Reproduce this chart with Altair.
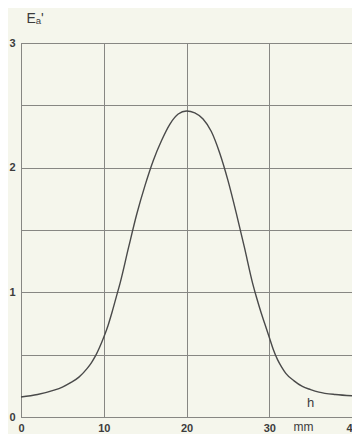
import altair as alt
import pandas as pd

x_mm = [0, 2, 4, 5, 6, 7, 8, 8.5, 9, 9.5, 10, 10.5, 11, 11.5, 12, 13, 14, 15, 16,
        17, 18, 19, 20, 21, 22, 23, 24, 25, 26, 27, 28, 28.5, 29, 29.5, 30, 30.5,
        31, 31.5, 32, 33, 34, 35, 36, 38, 40]
e_val = [0.16, 0.18, 0.215, 0.24, 0.275, 0.32, 0.39, 0.435, 0.49, 0.56, 0.64,
         0.73, 0.84, 0.96, 1.08, 1.36, 1.63, 1.86, 2.06, 2.22, 2.35, 2.43, 2.455,
         2.44, 2.39, 2.29, 2.12, 1.90, 1.64, 1.36, 1.07, 0.95, 0.84, 0.74, 0.64,
         0.54, 0.46, 0.40, 0.35, 0.29, 0.245, 0.22, 0.20, 0.18, 0.17]

x_ticks = [0, 10, 20, 30, 40]
y_ticks = [0, 0.5, 1, 1.5, 2, 2.5, 3]

label_text = ["h"]
label_x = [35.0]
label_y = [0.11]

df = pd.DataFrame({"x": x_mm, "e": e_val})
lab = pd.DataFrame({"x": label_x, "e": label_y, "t": label_text})

grid_col = "#878783"
ink = "#3c3c3c"

xs = alt.Scale(domain=[0, 40], nice=False, zero=False)
ys = alt.Scale(domain=[0, 3], nice=False)

line = alt.Chart(df).mark_line(color="#4a4a4a", strokeWidth=1.4, interpolate="monotone").encode(
    x=alt.X("x:Q", scale=xs, axis=alt.Axis(
        values=x_ticks, title="mm", titleX=282, titleY=13, titleAlign="center",
        titleBaseline="alphabetic", titleFontSize=12, titleFontWeight="normal",
        titleColor=ink, labelPadding=5, labelFlush=False, labelOverlap=False)),
    y=alt.Y("e:Q", scale=ys, axis=alt.Axis(
        values=y_ticks,
        labelExpr="datum.value % 1 == 0 ? format(datum.value, 'd') : ''",
        title="Eₐ'", titleAngle=0, titleX=5, titleY=-21, titleAlign="left",
        titleBaseline="alphabetic", titleFontSize=14, titleFontWeight="normal",
        titleColor=ink, labelPadding=6, labelFlush=False, labelOverlap=False)),
)

txt = alt.Chart(lab).mark_text(fontSize=13, color=ink, font="Liberation Sans",
                               baseline="middle", align="center").encode(
    x=alt.X("x:Q", scale=xs), y=alt.Y("e:Q", scale=ys), text="t:N")

chart = (line + txt).properties(
    width=331, height=374,
    autosize=alt.AutoSizeParams(type="none"),
    padding={"left": 13, "top": 35, "right": 0, "bottom": 17},
    background="#f5f6ec",
).configure_axis(
    grid=True, gridColor=grid_col, gridWidth=1, gridOpacity=1,
    domainColor=grid_col, domainWidth=1, ticks=False,
    labelFont="Liberation Sans", labelFontWeight="bold", labelFontSize=11,
    labelColor=ink, titleFont="Liberation Sans",
).configure_view(stroke=grid_col, strokeWidth=1)

chart.save("out.html", embed_options={"renderer": "svg", "actions": False})
